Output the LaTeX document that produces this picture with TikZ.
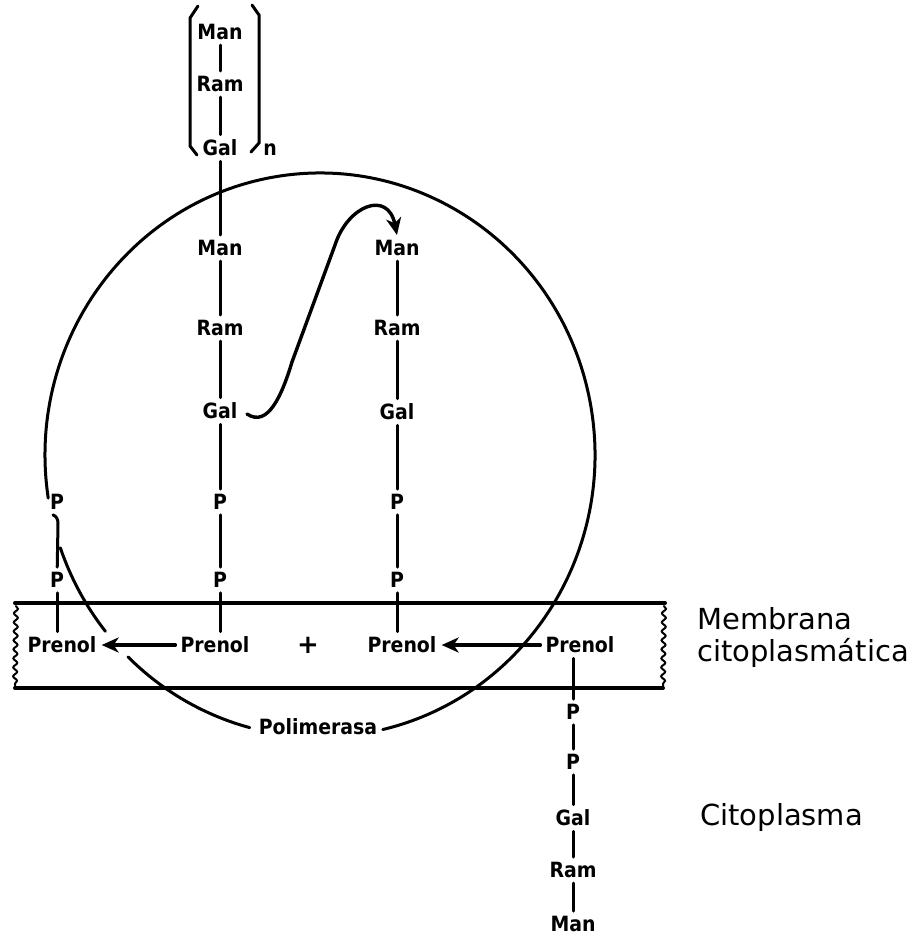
\documentclass[tikz,border=0pt]{standalone}
\usepackage{fontspec}
\setmainfont{DejaVu Sans}
\newfontfamily\estrecha{DejaVu Sans Condensed}
\usetikzlibrary{arrows.meta,decorations.pathmorphing}

\tikzset{
  azucar/.style={font=\estrecha\bfseries\fontsize{21}{23}\selectfont, inner sep=5pt},
  rotulo/.style={font=\fontsize{29}{32}\selectfont, align=left, anchor=west, inner sep=0pt},
  enlace/.style={line width=3pt},
  flecha/.style={line width=3.4pt, -{Stealth[length=17pt,width=15pt,inset=5pt]}},
  borde/.style={line width=2pt, decorate, decoration={snake, segment length=9pt, amplitude=2pt}},
}

\begin{document}
\begin{tikzpicture}[x=1pt, y=1pt, line cap=round]
            \useasboundingbox(0,0)rectangle(919,-937);

            % membrana
            \path[draw, line width=4pt](15,-603)to(665,-603);
            \path[draw, line width=4pt](15,-688)to(663,-688);
            \path[draw, borde](16,-606)to(15,-686);
            \path[draw, borde](664,-606)to(663,-686);

            % unidad repetida
            \node[azucar](man0)at(220,-32){Man};
            \node[azucar](ram0)at(220,-84){Ram};
            \node[azucar](gal0)at(220,-148){Gal};
            \node[azucar](n0)at(270,-150){n};
            \path[draw, enlace](man0)to(ram0);
            \path[draw, enlace](ram0)to(gal0);
            \path[draw, enlace](198,-6)to(190,-18)to(190,-146)to(197,-155);
            \path[draw, enlace](252,-5)to(259,-15)to(259,-143)to(251,-152);

            % cadena 1
            \node[azucar](man1)at(220,-248){Man};
            \node[azucar](ram1)at(220,-328){Ram};
            \node[azucar](gal1)at(220,-411){Gal};
            \node[azucar](p1a)at(220,-502){P};
            \node[azucar](p1b)at(220,-580){P};
            \node[azucar](pr1)at(215,-645){Prenol};
            \path[draw, enlace](gal0)to(man1);
            \foreach \a/\b in {man1/ram1,ram1/gal1,gal1/p1a,p1a/p1b}
              \path[draw, enlace](\a)to(\b);
            \path[draw, enlace](p1b)to(p1b|-pr1.north);

            % cadena 2
            \node[azucar](man2)at(397,-248){Man};
            \node[azucar](ram2)at(397,-328){Ram};
            \node[azucar](gal2)at(397,-412){Gal};
            \node[azucar](p2a)at(397,-502){P};
            \node[azucar](p2b)at(397,-580){P};
            \node[azucar](pr2)at(402,-645){Prenol};
            \foreach \a/\b in {man2/ram2,ram2/gal2,gal2/p2a,p2a/p2b}
              \path[draw, enlace](\a)to(\b);
            \path[draw, enlace](p2b)to(p2b|-pr2.north);

            % cadena izquierda
            \node[azucar](p3a)at(57,-502){P};
            \node[azucar](p3b)at(57,-580){P};
            \node[azucar](pr3)at(62,-645){Prenol};
            \path[draw, enlace](p3a.south)++(-4,0)to[out=-20,in=90]++(5,-9)to(p3b);
            \path[draw, enlace](p3b)to(p3b|-pr3.north);

            % cadena en el citoplasma
            \node[azucar](pr4)at(580,-645){Prenol};
            \node[azucar](p4a)at(573,-712){P};
            \node[azucar](p4b)at(573,-762){P};
            \node[azucar](gal4)at(573,-818){Gal};
            \node[azucar](ram4)at(573,-870){Ram};
            \node[azucar](man4)at(573,-924){Man};
            \path[draw, enlace](p4a|-pr4.south)to(p4a);
            \foreach \a/\b in {p4a/p4b,p4b/gal4,gal4/ram4,ram4/man4}
              \path[draw, enlace](\a)to(\b);

            % reaccion
            \node[font=\bfseries\fontsize{26}{26}\selectfont](mas)at(308,-645){+};
            \path[draw, flecha](pr1)to(pr3);
            \path[draw, flecha](pr4)to(pr2);
            \path[draw, flecha](247,-414) .. controls (268,-428) and (282,-395) .. (292,-362) -- (335,-245) .. controls (348,-205) and (388,-190) .. (man2.north);

            % polimerasa
            \coordinate(c)at(320,-455);
            \node[azucar](pol)at(318,-727){Polimerasa};
            \path[draw, enlace](c)++(-76.8:275 and 282)arc[start angle=-76.8, end angle=188.8, x radius=275, y radius=282];
            \path[draw, enlace](c)++(-160.8:275 and 282)arc[start angle=-160.8, end angle=-141.3, x radius=275, y radius=282];
            \path[draw, enlace](c)++(-134.3:275 and 282)arc[start angle=-134.3, end angle=-104.8, x radius=275, y radius=282];

            % rotulos
            \node[rotulo](memb)at(697,-637){Membrana\\citoplasmática};
            \node[rotulo](cito)at(700,-817){Citoplasma};
        \end{tikzpicture}
\end{document}
